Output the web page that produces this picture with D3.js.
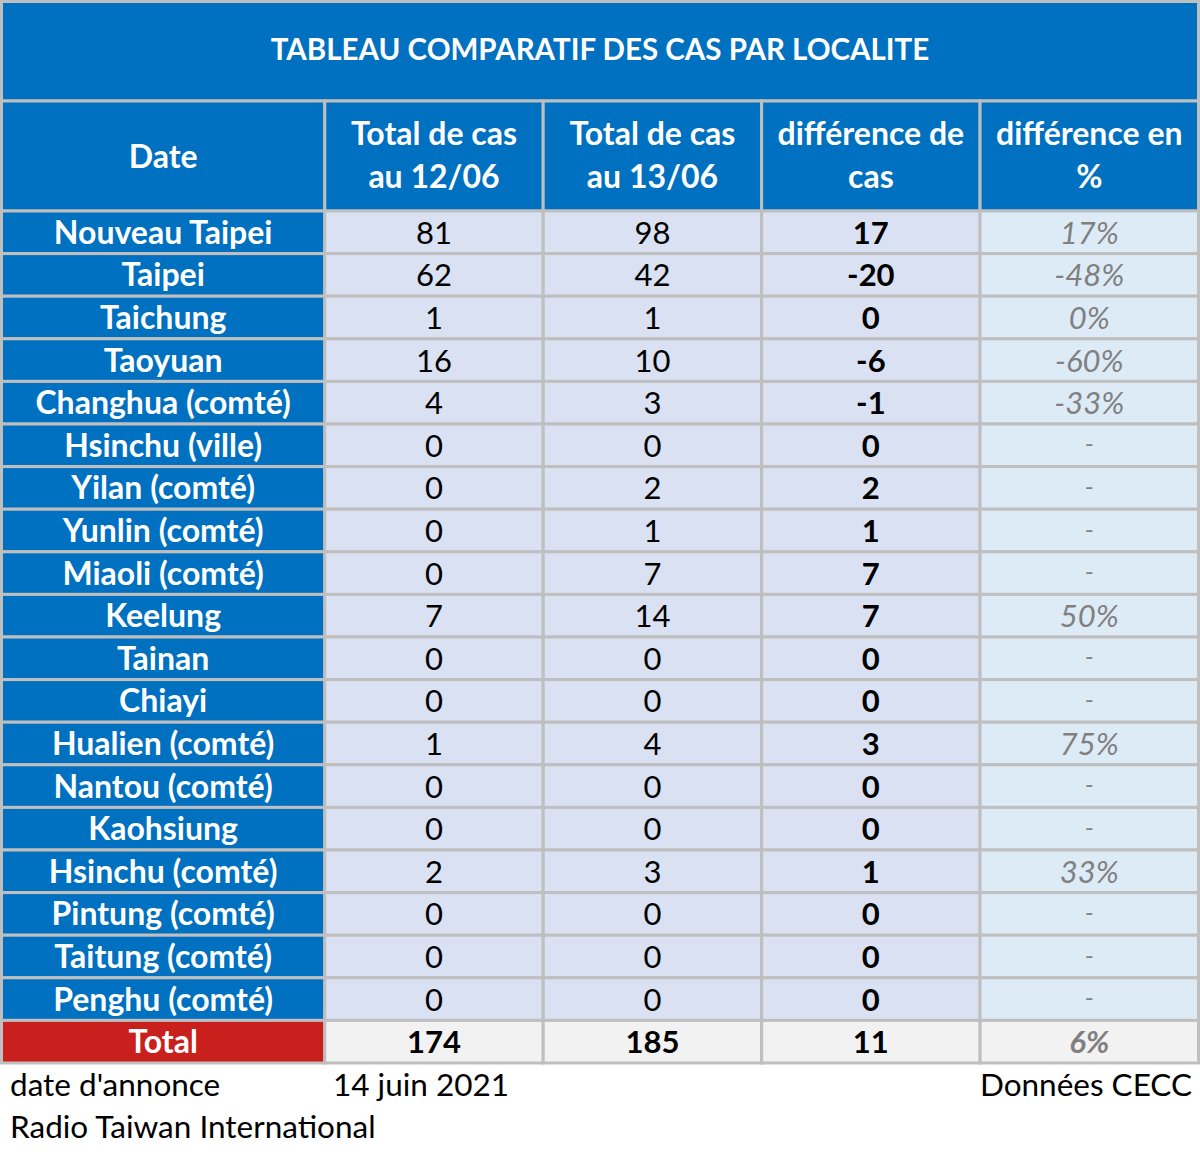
<!DOCTYPE html>
<html><head><meta charset="utf-8">
<script src="https://cdn.jsdelivr.net/npm/d3@7"></script>
<style>html,body{margin:0;padding:0;background:#fff;}svg{display:block;}</style>
</head><body>
<svg id="c" width="1200" height="1161"></svg>
<script>
const title = "TABLEAU COMPARATIF DES CAS PAR LOCALITE";
const headers = [["Date"], ["Total de cas", "au 12/06"], ["Total de cas", "au 13/06"], ["différence de", "cas"], ["différence en", "%"]];
const localities = ["Nouveau Taipei","Taipei","Taichung","Taoyuan","Changhua (comté)","Hsinchu (ville)","Yilan (comté)","Yunlin (comté)","Miaoli (comté)","Keelung","Tainan","Chiayi","Hualien (comté)","Nantou (comté)","Kaohsiung","Hsinchu (comté)","Pintung (comté)","Taitung (comté)","Penghu (comté)"];
const cas1206 = [81,62,1,16,4,0,0,0,0,7,0,0,1,0,0,2,0,0,0];
const cas1306 = [98,42,1,10,3,0,2,1,7,14,0,0,4,0,0,3,0,0,0];
const diffCas = [17,-20,0,-6,-1,0,2,1,7,7,0,0,3,0,0,1,0,0,0];
const diffPct = ["17%","-48%","0%","-60%","-33%","-","-","-","-","50%","-","-","75%","-","-","33%","-","-","-"];
const totalLabel = "Total";
const totals = [174, 185, 11, "6%"];
const footLeft = ["date d'annonce", "Radio Taiwan International"];
const footDate = "14 juin 2021";
const footRight = "Données CECC";

const F = "Lato, 'Open Sans', sans-serif";
const svg = d3.select("#c");
const colW = [1.48, 1, 1, 1, 1];
const cum = [0]; colW.forEach(w => cum.push(cum[cum.length-1] + w));
const x = d3.scaleLinear().domain([0, cum[cum.length-1]]).range([1.5, 1198.5]);
const rowKeys = localities.concat([totalLabel]);
const y = d3.scaleBand().domain(rowKeys).range([211, 1063]);
const grid = "#BFBFBF";
const blue = "#0070C0";

// title
svg.append("rect").attr("x", x(0)).attr("y", 1.5).attr("width", x(cum[5]) - x(0)).attr("height", 101 - 1.5)
  .attr("fill", blue).attr("stroke", grid).attr("stroke-width", 3);
svg.append("text").attr("x", (x(0)+x(cum[5]))/2).attr("y", 60).attr("text-anchor","middle")
  .attr("font-family", F).attr("font-weight", 700).attr("font-size", 29.5).attr("fill", "#fff").text(title);

// header
headers.forEach((h, i) => {
  const x0 = x(cum[i]), x1 = x(cum[i+1]);
  svg.append("rect").attr("x", x0).attr("y", 101).attr("width", x1-x0).attr("height", 110)
    .attr("fill", blue).attr("stroke", grid).attr("stroke-width", 3);
  const t = svg.append("text").attr("text-anchor","middle").attr("font-family", F).attr("font-weight", 700)
    .attr("font-size", 32).attr("fill", "#fff");
  if (h.length === 1) {
    t.append("tspan").attr("x", (x0+x1)/2).attr("y", 168).text(h[0]);
  } else {
    t.append("tspan").attr("x", (x0+x1)/2).attr("y", 145).text(h[0]);
    t.append("tspan").attr("x", (x0+x1)/2).attr("y", 188).text(h[1]);
  }
});

// body
const fills = ["#D9E1F2", "#D9E1F2", "#DAE1F2", "#DDEBF7"];
rowKeys.forEach((name, r) => {
  const isTotal = r === localities.length;
  const y0 = y(name), h = y.bandwidth();
  svg.append("rect").attr("x", x(0)).attr("y", y0).attr("width", x(cum[1]) - x(0)).attr("height", h)
    .attr("fill", isTotal ? "#C9201E" : blue).attr("stroke", grid).attr("stroke-width", 3);
  svg.append("text").attr("x", (x(0)+x(cum[1]))/2).attr("y", y0 + h/2 + 11.5).attr("text-anchor","middle")
    .attr("font-family", F).attr("font-weight", 700).attr("font-size", 32).attr("fill", "#fff").text(name);
  const vals = isTotal ? totals : [cas1206[r], cas1306[r], diffCas[r], diffPct[r]];
  vals.forEach((v, c) => {
    const x0 = x(cum[c+1]), x1 = x(cum[c+2]);
    svg.append("rect").attr("x", x0).attr("y", y0).attr("width", x1-x0).attr("height", h)
      .attr("fill", isTotal ? "#F2F2F2" : fills[c]).attr("stroke", grid).attr("stroke-width", 3);
    const isPct = c === 3;
    const isDash = v === "-";
    svg.append("text").attr("x", (x0+x1)/2).attr("y", y0 + h/2 + (isDash ? 8 : 11.5)).attr("text-anchor","middle")
      .attr("font-family", F)
      .attr("font-weight", (isTotal || c === 2) ? 700 : 400)
      .attr("font-style", isPct ? "italic" : "normal")
      .attr("font-size", isDash ? 26 : 31)
      .attr("fill", isPct ? "#808080" : "#000")
      .text(v);
  });
});

// footer
const FS = 31.5;
svg.append("text").attr("x", 10).attr("y", 1096).attr("font-family", F).attr("font-size", FS).attr("fill", "#000").text(footLeft[0]);
svg.append("text").attr("x", 333).attr("y", 1096).attr("font-family", F).attr("font-size", FS).attr("fill", "#000").text(footDate);
svg.append("text").attr("x", 1192).attr("y", 1096).attr("text-anchor","end").attr("font-family", F).attr("font-size", FS).attr("fill", "#000").text(footRight);
svg.append("text").attr("x", 10).attr("y", 1138).attr("font-family", F).attr("font-size", FS).attr("fill", "#000").text(footLeft[1]);
</script>
</body></html>
